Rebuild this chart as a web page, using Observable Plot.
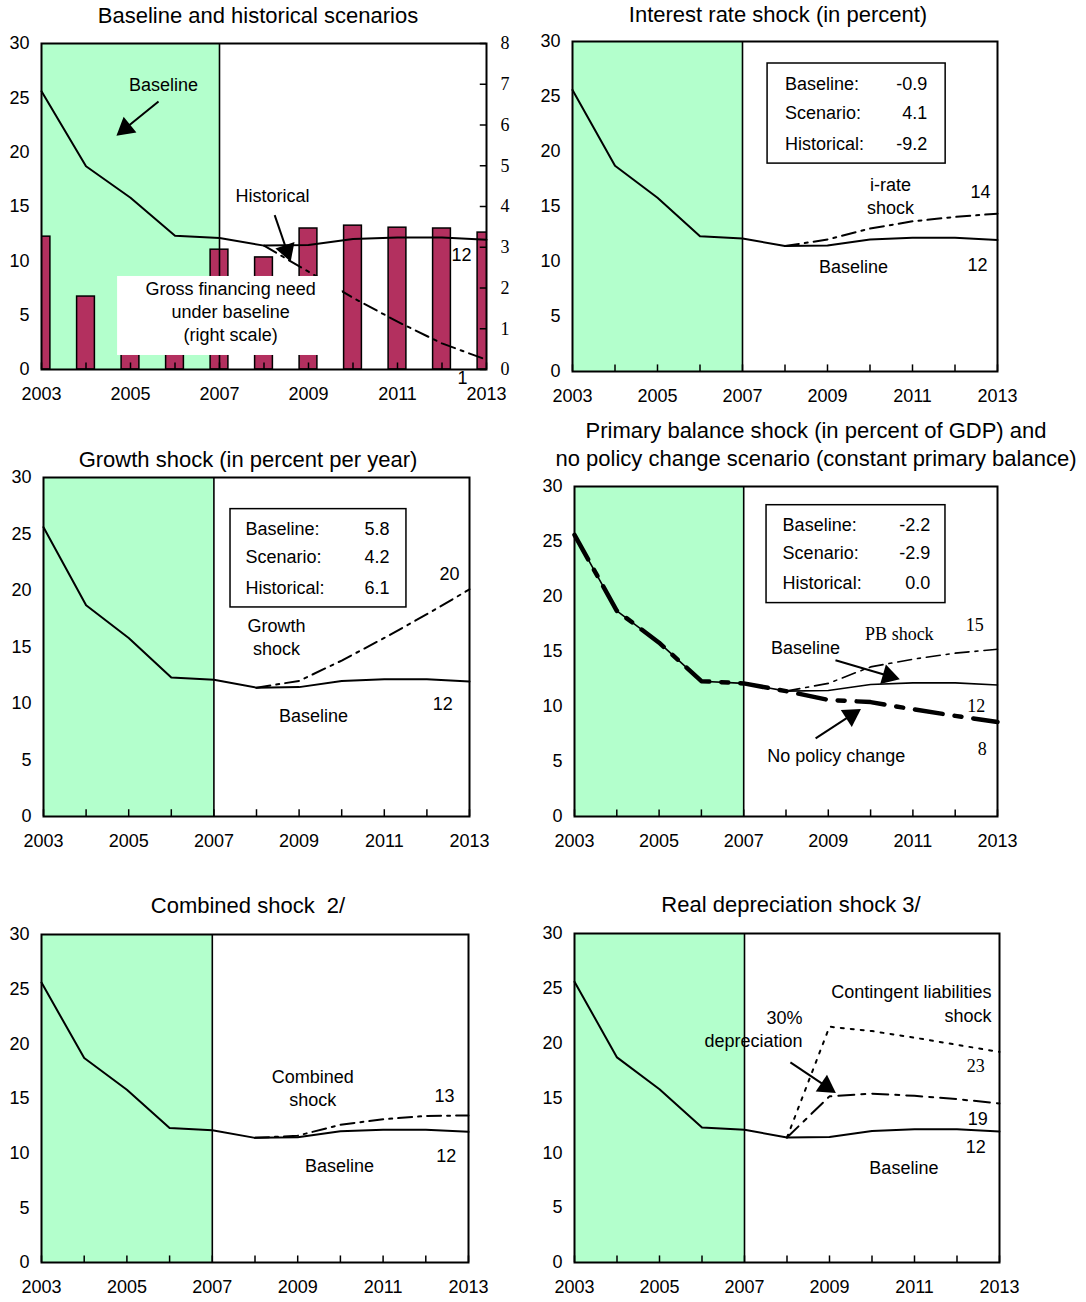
<!DOCTYPE html>
<html>
<head>
<meta charset="utf-8">
<script src="https://cdn.jsdelivr.net/npm/d3@7"></script>
<script src="https://cdn.jsdelivr.net/npm/@observablehq/plot@0.6"></script>
<style>
  body { margin: 0; background: white; }
  #root { position: relative; width: 1086px; height: 1302px; background: white; overflow: hidden; }
  .panel { position: absolute; }
  .title { position: absolute; transform: translateX(-50%); white-space: nowrap; font-family: "Liberation Sans", Arial, sans-serif; font-size: 22px; color: #000; z-index: 5; line-height: 28px; text-align: center; }
</style>
</head>
<body>
<div id="root"></div>
<script>
// ---------------- DATA ----------------
const years = [2003, 2004, 2005, 2006, 2007, 2008, 2009, 2010, 2011, 2012, 2013];
const projYears = [2008, 2009, 2010, 2011, 2012, 2013];
const historicalPeriod = [2003, 2007];
const baseline = [25.6, 18.7, 15.8, 12.3, 12.1, 11.4, 11.45, 12.0, 12.15, 12.15, 11.95];
const historical = [11.4, 9.0, 6.6, 4.4, 2.4, 0.9];
const grossFinancing = [3.26, 1.79, 1.9, 1.9, 2.94, 2.75, 3.46, 3.53, 3.48, 3.46, 3.36];
const iRateShock = [11.4, 12.0, 13.0, 13.65, 14.05, 14.35];
const growthShock = [11.4, 12.0, 13.8, 15.8, 17.9, 20.1];
const pbShock = [11.4, 12.1, 13.6, 14.3, 14.85, 15.2];
const noPolicyChange = [25.6, 18.7, 15.8, 12.3, 12.1, 11.4, 10.6, 10.4, 9.75, 9.15, 8.6];
const combinedShock = [11.4, 11.6, 12.6, 13.1, 13.4, 13.45];
const depreciation30 = [11.4, 15.15, 15.4, 15.2, 14.9, 14.5];
const contingentLiab = [11.4, 21.5, 21.1, 20.5, 19.85, 19.2];
const statLabels = ["Baseline:", "Scenario:", "Historical:"];
const statsIRate = ["-0.9", "4.1", "-9.2"];
const statsGrowth = ["5.8", "4.2", "6.1"];
const statsPB = ["-2.2", "-2.9", "0.0"];
const xTickLabels = [2003, 2005, 2007, 2009, 2011, 2013];
const yTicks = [0, 5, 10, 15, 20, 25, 30];
const rightTicks = [0, 1, 2, 3, 4, 5, 6, 7, 8];

// ---------------- HELPERS ----------------
const SANS = "Liberation Sans, Arial, sans-serif";
const SERIF = "Liberation Serif, Times New Roman, serif";
const FS = 18;
const RSCALE = 30 / 8;
const tbl = (xs, ys) => xs.map((x, i) => ({x, y: ys[i]}));
const DASHDOT = "14,6,3,6";
const root = document.getElementById("root");

function addTitle(lines, cx, cy) {
  const d = document.createElement("div");
  d.className = "title";
  d.innerHTML = lines.join("<br>");
  d.style.left = cx + "px";
  d.style.top = (cy - 14) + "px";
  root.appendChild(d);
}

function statBox(box, labelX, valueX, rowsY, values) {
  const rows = statLabels.map((l, i) => ({l, v: values[i], y: rowsY[i]}));
  return [
    Plot.rect([box], {x1: "x1", x2: "x2", y1: "y1", y2: "y2", fill: "white", stroke: "black", strokeWidth: 1.5}),
    Plot.text(rows, {x: labelX, y: "y", text: "l", textAnchor: "start", fontSize: FS, fontFamily: SANS}),
    Plot.text(rows, {x: valueX, y: "y", text: "v", textAnchor: "end", fontSize: FS, fontFamily: SANS})
  ];
}

function texts(arr, font = SANS, anchor = "middle") {
  return Plot.text(arr, {x: "x", y: "y", text: "t", fontSize: FS, fontFamily: font, textAnchor: anchor});
}

// arrow with a filled triangular head; cfg gives the panel geometry (px per data unit)
function arrows(arr, cfg) {
  const kx = (cfg.width - cfg.ml - cfg.mr) / 10;
  const ky = (cfg.height - cfg.mt - cfg.mb) / 30;
  const heads = arr.map(a => {
    const dxp = (a.x2 - a.x1) * kx, dyp = -(a.y2 - a.y1) * ky;
    const len = Math.hypot(dxp, dyp);
    const ux = dxp / len, uy = dyp / len;
    const back = 5;
    return {
      x1: a.x1, y1: a.y1,
      cx: a.x2 - back * ux / kx, cy: a.y2 + back * uy / ky,
      sx: a.x2 - 9 * ux / kx, sy: a.y2 + 9 * uy / ky,
      rot: Math.atan2(dxp, -dyp) * 180 / Math.PI
    };
  });
  return [
    Plot.link(heads, {x1: "x1", y1: "y1", x2: "sx", y2: "sy", stroke: "black", strokeWidth: 2}),
    Plot.dot(heads, {x: "cx", y: "cy", symbol: "triangle", r: 7.5, fill: "black", stroke: "none", rotate: "rot"})
  ];
}

function makePanel(cfg) {
  const marks = [
    Plot.rect([historicalPeriod], {x1: d => d[0], x2: d => d[1], y1: 0, y2: 30, fill: "#b3ffcc"}),
    ...(cfg.under || []),
    Plot.ruleX([historicalPeriod[1]], {y1: 0, y2: 30, stroke: "black", strokeWidth: 1.6}),
    Plot.ruleX(years, {y1: 0, y2: 0.6, stroke: "black", strokeWidth: 1.5}),
    ...(cfg.lines || []),
    ...(cfg.over ? cfg.over(cfg) : []),
    Plot.frame({stroke: "black", strokeWidth: 2}),
    Plot.axisX({ticks: xTickLabels, tickFormat: "d", tickSize: 0, tickPadding: 18, fontSize: FS, fontFamily: SANS, label: null}),
    Plot.axisY({ticks: yTicks, tickSize: 0, tickPadding: 12, fontSize: FS, fontFamily: SANS, label: null}),
    ...(cfg.extraAxes || [])
  ];
  const svg = Plot.plot({
    width: cfg.width, height: cfg.height,
    marginLeft: cfg.ml, marginRight: cfg.mr, marginTop: cfg.mt, marginBottom: cfg.mb,
    x: {domain: [2003, 2013], label: null},
    y: {domain: [0, 30], label: null},
    style: {fontFamily: SANS, fontSize: FS + "px", background: "transparent", overflow: "visible", color: "black"},
    marks
  });
  const wrap = document.createElement("div");
  wrap.className = "panel";
  wrap.style.left = cfg.left + "px";
  wrap.style.top = cfg.top + "px";
  wrap.appendChild(svg);
  root.appendChild(wrap);
}

const baselineLine = (w = 2) => Plot.line(tbl(years, baseline), {x: "x", y: "y", stroke: "black", strokeWidth: w});
const shockLine = (vals, dash = DASHDOT, w = 2) => Plot.line(tbl(projYears, vals), {x: "x", y: "y", stroke: "black", strokeWidth: w, strokeDasharray: dash});

// ---------------- PANEL 1 ----------------
const gfnData = years.map((year, i) => ({year, v: grossFinancing[i]}));
addTitle(["Baseline and historical scenarios"], 258, 16);
makePanel({
  left: 0, top: 30, width: 540, height: 385, ml: 41, mr: 54, mt: 13, mb: 46,
  under: [
    Plot.rect(gfnData, {x1: d => d.year - 0.2, x2: d => d.year + 0.2, y1: 0, y2: d => d.v * RSCALE, fill: "#b3305f", stroke: "black", strokeWidth: 1.5, clip: true})
  ],
  lines: [baselineLine(), shockLine(historical)],
  over: cfg => [
    Plot.rect([{x1: 2004.71, x2: 2009.76, y1: 1.29, y2: 8.56}], {x1: "x1", x2: "x2", y1: "y1", y2: "y2", fill: "white"}),
    texts([
      {x: 2005.74, y: 26.2, t: "Baseline"},
      {x: 2008.19, y: 15.9, t: "Historical"},
      {x: 2012.44, y: 10.5, t: "12"},
      {x: 2007.25, y: 7.36, t: "Gross financing need"},
      {x: 2007.25, y: 5.25, t: "under baseline"},
      {x: 2007.25, y: 3.13, t: "(right scale)"},
      {x: 2012.46, y: -0.83, t: "1"}
    ]),
    ...arrows([
      {x1: 2005.63, y1: 24.66, x2: 2004.80, y2: 21.9},
      {x1: 2008.24, y1: 14.2, x2: 2008.55, y2: 10.5}
    ], cfg),
    Plot.ruleY(rightTicks, {y: d => d * RSCALE, x1: 2012.86, x2: 2013, stroke: "black", strokeWidth: 1.5})
  ],
  extraAxes: [
    Plot.axisY({anchor: "right", ticks: rightTicks.map(d => d * RSCALE), tickFormat: d => String(Math.round(d / RSCALE)), tickSize: 0, tickPadding: 14, fontSize: FS, fontFamily: SERIF, label: null})
  ]
});

// ---------------- PANEL 2 ----------------
addTitle(["Interest rate shock (in percent)"], 778, 15);
makePanel({
  left: 540, top: 30, width: 546, height: 385, ml: 32, mr: 89, mt: 11, mb: 44,
  lines: [baselineLine(), shockLine(iRateShock)],
  over: cfg => [
    ...statBox({x1: 2007.59, x2: 2011.78, y1: 18.9, y2: 28.0}, 2008.0, 2011.35, [26.1, 23.45, 20.7], statsIRate),
    texts([
      {x: 2010.48, y: 16.9, t: "i-rate"},
      {x: 2010.48, y: 14.8, t: "shock"},
      {x: 2012.6, y: 16.3, t: "14"},
      {x: 2009.61, y: 9.45, t: "Baseline"},
      {x: 2012.53, y: 9.7, t: "12"}
    ])
  ]
});

// ---------------- PANEL 3 ----------------
addTitle(["Growth shock (in percent per year)"], 248, 460);
makePanel({
  left: 0, top: 470, width: 540, height: 390, ml: 43, mr: 71, mt: 7, mb: 44,
  lines: [baselineLine(), shockLine(growthShock)],
  over: cfg => [
    ...statBox({x1: 2007.39, x2: 2011.52, y1: 18.5, y2: 27.2}, 2007.74, 2011.12, [25.4, 22.9, 20.2], statsGrowth),
    texts([
      {x: 2008.47, y: 16.8, t: "Growth"},
      {x: 2008.47, y: 14.8, t: "shock"},
      {x: 2012.53, y: 21.4, t: "20"},
      {x: 2009.34, y: 8.9, t: "Baseline"},
      {x: 2012.37, y: 9.9, t: "12"}
    ])
  ]
});

// ---------------- PANEL 4 ----------------
addTitle(["Primary balance shock (in percent of GDP) and", "no policy change scenario (constant primary balance)"], 816, 431);
makePanel({
  left: 540, top: 476, width: 546, height: 384, ml: 34, mr: 89, mt: 10, mb: 44,
  lines: [
    Plot.line(tbl(years, noPolicyChange), {x: "x", y: "y", stroke: "black", strokeWidth: 4.5, strokeDasharray: "28,12,7,12"}),
    baselineLine(1.6),
    shockLine(pbShock, DASHDOT, 1.6)
  ],
  over: cfg => [
    ...statBox({x1: 2007.54, x2: 2011.77, y1: 19.4, y2: 28.3}, 2007.92, 2011.41, [26.5, 23.9, 21.2], statsPB),
    texts([
      {x: 2008.46, y: 15.3, t: "Baseline"},
      {x: 2009.19, y: 5.45, t: "No policy change"}
    ]),
    texts([
      {x: 2010.68, y: 16.6, t: "PB shock"},
      {x: 2012.46, y: 17.4, t: "15"},
      {x: 2012.5, y: 10.0, t: "12"},
      {x: 2012.64, y: 6.1, t: "8"}
    ], SERIF),
    ...arrows([
      {x1: 2009.17, y1: 14.2, x2: 2010.54, y2: 12.65},
      {x1: 2008.7, y1: 7.1, x2: 2009.64, y2: 9.45}
    ], cfg)
  ]
});

// ---------------- PANEL 5 ----------------
addTitle(["Combined shock&nbsp;&nbsp;2/"], 248, 906);
makePanel({
  left: 0, top: 920, width: 540, height: 382, ml: 41, mr: 72, mt: 14, mb: 40,
  lines: [baselineLine(), shockLine(combinedShock)],
  over: cfg => [
    texts([
      {x: 2009.35, y: 16.9, t: "Combined"},
      {x: 2009.35, y: 14.8, t: "shock"},
      {x: 2012.44, y: 15.2, t: "13"},
      {x: 2009.98, y: 8.8, t: "Baseline"},
      {x: 2012.48, y: 9.7, t: "12"}
    ])
  ]
});

// ---------------- PANEL 6 ----------------
addTitle(["Real depreciation shock 3/"], 791, 905);
makePanel({
  left: 540, top: 920, width: 546, height: 382, ml: 34, mr: 87, mt: 13, mb: 40,
  lines: [
    baselineLine(),
    shockLine(depreciation30, "16,7,4,7", 2),
    shockLine(contingentLiab, "3,7", 2)
  ],
  over: cfg => [
    texts([
      {x: 2012.81, y: 24.6, t: "Contingent liabilities"},
      {x: 2012.81, y: 22.5, t: "shock"}
    ], SANS, "end"),
    texts([
      {x: 2007.94, y: 22.3, t: "30%"},
      {x: 2007.21, y: 20.2, t: "depreciation"},
      {x: 2012.49, y: 13.1, t: "19"},
      {x: 2012.44, y: 10.5, t: "12"},
      {x: 2010.75, y: 8.6, t: "Baseline"}
    ]),
    texts([{x: 2012.44, y: 17.9, t: "23"}], SERIF),
    ...arrows([{x1: 2008.08, y1: 18.25, x2: 2009.02, y2: 15.8}], cfg)
  ]
});
</script>
</body>
</html>
